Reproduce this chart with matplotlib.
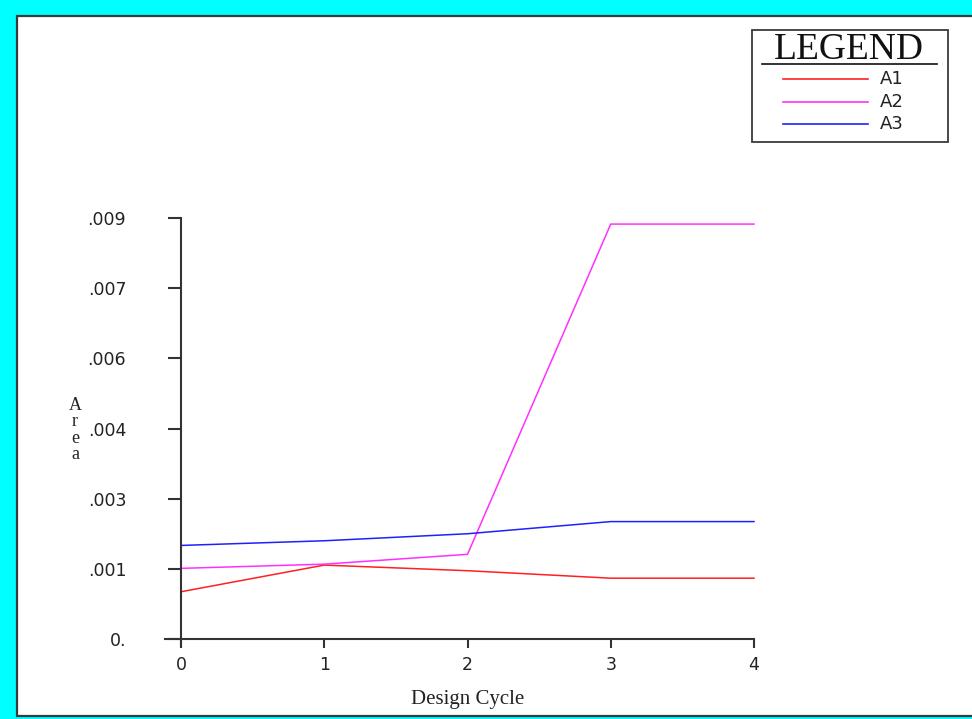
import matplotlib
matplotlib.use("Agg")
import matplotlib.pyplot as plt
from matplotlib.patches import Rectangle
from matplotlib.lines import Line2D

# ── data ──────────────────────────────────────────────
cycles = [0, 1, 2, 3, 4]
area_a1 = [0.00101, 0.00158, 0.00146, 0.00130, 0.00130]
area_a2 = [0.00151, 0.00160, 0.00181, 0.00887, 0.00887]
area_a3 = [0.00200, 0.00210, 0.00225, 0.00251, 0.00251]
series_names = ["A1", "A2", "A3"]
series_colors = ["#FF2020", "#FF30FF", "#2020FF"]

y_ticks = [0, 0.0015, 0.003, 0.0045, 0.006, 0.0075, 0.009]
y_tick_labels = ["0.", ".001", ".003", ".004", ".006", ".007", ".009"]
x_ticks = [0, 1, 2, 3, 4]

W, H = 972, 719
fig = plt.figure(figsize=(W / 100, H / 100), dpi=100)
fig.patch.set_facecolor("#00FFFF")


def fx(px):
    return px / W


def fy(py):
    return 1 - py / H


# white panel with dark edge (behind the axes)
fig.patches.append(Rectangle((fx(17), fy(716)), fx(W + 10) - fx(17), fy(16) - fy(716),
                             transform=fig.transFigure, facecolor="white",
                             edgecolor="#3A3A3A", linewidth=1.6, zorder=-5))

ax = fig.add_axes([fx(181), fy(639), fx(754) - fx(181), fy(218) - fy(639)])
ax.set_facecolor("none")
for ys, name, col in zip([area_a1, area_a2, area_a3], series_names, series_colors):
    ax.plot(cycles, ys, color=col, linewidth=1.1, label=name, clip_on=False)

ax.set_xlim(0, 4)
ax.set_ylim(0, 0.009)
ax.spines["top"].set_visible(False)
ax.spines["right"].set_visible(False)
for s in ["left", "bottom"]:
    ax.spines[s].set_color("#333333")
    ax.spines[s].set_linewidth(1.5)
ax.spines["bottom"].set_bounds(-0.11, 4)
ax.spines["left"].set_bounds(-0.00014, 0.009)

ax.set_yticks(y_ticks)
ax.set_yticklabels(y_tick_labels)
ax.set_xticks(x_ticks)
ax.tick_params(axis="y", direction="out", length=9.5, width=1.5, color="#333333",
               pad=30, labelsize=12.5, labelcolor="#222222")
ax.tick_params(axis="x", direction="out", length=6.5, width=1.5, color="#333333",
               pad=6, labelsize=12.5, labelcolor="#222222")
for lab in ax.get_xticklabels() + ax.get_yticklabels():
    lab.set_family("DejaVu Sans")

ax.set_xlabel("Design Cycle", family="Liberation Serif", fontsize=15, labelpad=11,
              color="#222222")
fig.text(fx(75), fy(430), "A\nr\ne\na", family="Liberation Serif", fontsize=13,
         ha="center", va="center", linespacing=0.95, color="#222222")

# ── legend box ──
fig.patches.append(Rectangle((fx(752), fy(142)), fx(948) - fx(752), fy(30) - fy(142),
                             transform=fig.transFigure, facecolor="white",
                             edgecolor="#3A3A3A", linewidth=1.3, zorder=3))
fig.text(fx(849), fy(50), "LEGEND", family="Liberation Serif", fontsize=27,
         ha="center", va="center", color="#111111", zorder=4)
fig.lines.append(Line2D([fx(762), fx(937)], [fy(64), fy(64)], transform=fig.transFigure,
                        color="#111111", linewidth=1.2, zorder=4))
for i, (name, col) in enumerate(zip(series_names, series_colors)):
    yy = [79, 102, 124][i]
    fig.lines.append(Line2D([fx(783), fx(868)], [fy(yy), fy(yy)], transform=fig.transFigure,
                            color=col, linewidth=1.2, zorder=4))
    fig.text(fx(880), fy(yy), name, family="DejaVu Sans", fontsize=13,
             ha="left", va="center", color="#222222", zorder=4)

fig.savefig("out.png", dpi=100)
